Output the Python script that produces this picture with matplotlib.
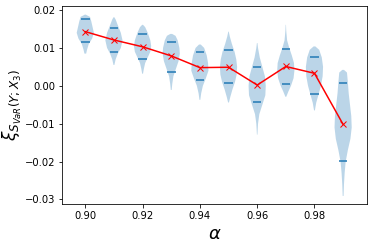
import numpy as np
import matplotlib
matplotlib.use("Agg")
import matplotlib.pyplot as plt

# confidence levels
alphas = [0.90, 0.91, 0.92, 0.93, 0.94, 0.95, 0.96, 0.97, 0.98, 0.99]

# mean of each bootstrap distribution (red line)
means = [0.0143, 0.0121, 0.0103, 0.0079, 0.0048, 0.0049, 0.0002, 0.0051, 0.0033, -0.0102]

# lower / upper quantile lines
q_low = [0.01165, 0.00891, 0.00706, 0.00371, 0.00159, 0.00062, -0.00441, 0.00044, -0.00229, -0.01986]
q_high = [0.01774, 0.01527, 0.01359, 0.01165, 0.00883, 0.00936, 0.00494, 0.0098, 0.00768, 0.00071]

# violin outlines: y values and relative half-widths
prof_y = [
    [0.0085, 0.0095, 0.0110, 0.0125, 0.0140, 0.0155, 0.0170, 0.0182, 0.0188],
    [0.0055, 0.0070, 0.0085, 0.0100, 0.0120, 0.0140, 0.0160, 0.0175, 0.0181],
    [0.0032, 0.0045, 0.0060, 0.0075, 0.0090, 0.0105, 0.0120, 0.0140, 0.0155, 0.0161],
    [-0.0011, 0.0005, 0.0025, 0.0045, 0.0065, 0.0085, 0.0100, 0.0120, 0.0132, 0.0137],
    [-0.0037, -0.0020, 0.0000, 0.0020, 0.0040, 0.0060, 0.0080, 0.0100, 0.0109],
    [-0.0044, -0.0030, -0.0010, 0.0010, 0.0030, 0.0050, 0.0070, 0.0090, 0.0110, 0.0130, 0.0143],
    [-0.0129, -0.0100, -0.0075, -0.0050, -0.0025, 0.0000, 0.0025, 0.0050, 0.0075, 0.0100, 0.0113],
    [-0.0029, -0.0015, 0.0000, 0.0020, 0.0040, 0.0060, 0.0080, 0.0100, 0.0120, 0.0145, 0.0161],
    [-0.0065, -0.0045, -0.0025, 0.0000, 0.0025, 0.0050, 0.0075, 0.0095, 0.0104],
    [-0.0291, -0.0260, -0.0230, -0.0200, -0.0170, -0.0140, -0.0110, -0.0080, -0.0050, -0.0020, 0.0010, 0.0035, 0.0042],
]
prof_w = [
    [0.10, 0.20, 0.40, 0.80, 1.00, 0.85, 0.70, 0.55, 0.05],
    [0.05, 0.20, 0.45, 0.80, 1.00, 0.80, 0.45, 0.20, 0.05],
    [0.05, 0.15, 0.30, 0.60, 0.90, 1.00, 0.90, 0.60, 0.30, 0.05],
    [0.05, 0.12, 0.25, 0.55, 0.85, 1.00, 0.95, 0.75, 0.50, 0.10],
    [0.05, 0.15, 0.35, 0.70, 1.00, 0.95, 0.80, 0.50, 0.10],
    [0.05, 0.20, 0.45, 0.75, 0.95, 1.00, 0.90, 0.70, 0.40, 0.15, 0.03],
    [0.03, 0.10, 0.25, 0.60, 0.95, 1.00, 0.90, 0.60, 0.30, 0.10, 0.03],
    [0.05, 0.30, 0.60, 0.90, 1.00, 0.95, 0.70, 0.40, 0.15, 0.05, 0.02],
    [0.05, 0.20, 0.45, 0.75, 0.95, 1.00, 0.85, 0.55, 0.10],
    [0.05, 0.10, 0.18, 0.30, 0.55, 0.85, 1.00, 0.95, 0.80, 0.65, 0.55, 0.45, 0.10],
]

vpstats = []
for i in range(len(alphas)):
    ys = np.array(prof_y[i])
    vpstats.append({
        "coords": ys,
        "vals": np.array(prof_w[i]),
        "mean": means[i],
        "median": means[i],
        "min": ys.min(),
        "max": ys.max(),
        "quantiles": [q_low[i], q_high[i]],
    })

fig = plt.figure(figsize=(374 / 72, 246 / 72), dpi=72)
ax = fig.add_axes([0.166, 0.171, 0.815, 0.805])

ax.violin(vpstats, positions=alphas, widths=0.006,
          showmeans=False, showextrema=False, showmedians=False)
ax.plot(alphas, means, "rx-")

ax.set_xlim(0.8919, 0.9983)
ax.set_ylim(-0.0312, 0.0211)
ax.set_xticks([0.90, 0.92, 0.94, 0.96, 0.98])
ax.set_yticks([-0.03, -0.02, -0.01, 0.00, 0.01, 0.02])
ax.set_xlabel(r"$\alpha$", fontsize=18)
ax.set_ylabel(r"$\xi_{S_{VaR}(Y;X_3)}$", fontsize=17, labelpad=1)

fig.savefig("out.png", dpi=72)
